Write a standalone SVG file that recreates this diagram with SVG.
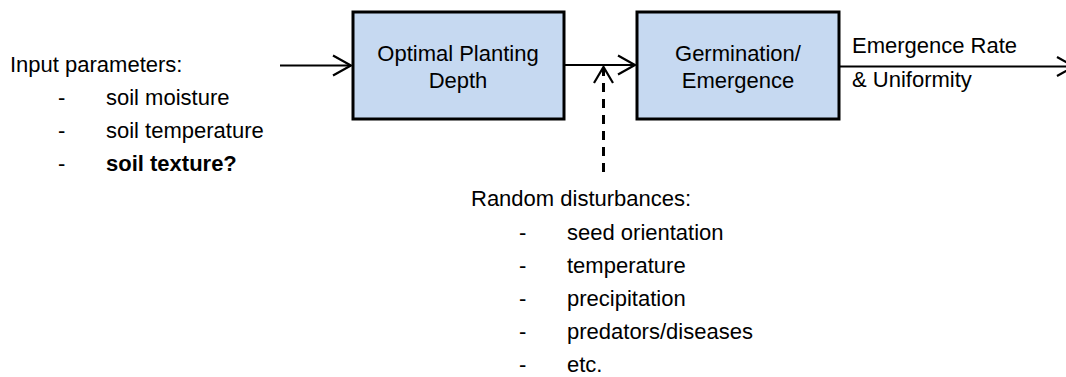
<svg xmlns="http://www.w3.org/2000/svg" width="1066" height="377" viewBox="0 0 1066 377">
  <style>
    text { font-family: "Liberation Sans", Arial, sans-serif; font-size: 22px; fill: #000; }
    .box { fill: #C6D9F1; stroke: #000; stroke-width: 3; }
    .c { text-anchor: middle; }
    .line { fill: none; stroke: #000; stroke-width: 2; }
    .head { fill: none; stroke: #000; stroke-width: 2.2; stroke-linejoin: miter; }
    .dash { fill: none; stroke: #000; stroke-width: 3; stroke-dasharray: 9 7; }
    .b { font-weight: bold; }
  </style>
  <rect width="1066" height="377" fill="#fff"/>

  <g id="input-parameters">
    <text x="10" y="72">Input parameters:</text>
    <text x="58" y="105">-</text>
    <text x="106" y="105">soil moisture</text>
    <text x="58" y="138">-</text>
    <text x="106" y="138">soil temperature</text>
    <text x="58" y="171">-</text>
    <text x="106" y="171" class="b">soil texture?</text>
  </g>

  <g id="optimal-planting-depth">
    <rect class="box" x="353" y="12" width="211" height="107"/>
    <text class="c" x="458" y="61">Optimal Planting</text>
    <text class="c" x="458" y="88">Depth</text>
  </g>

  <g id="germination-emergence">
    <rect class="box" x="637" y="12" width="202" height="107"/>
    <text class="c" x="738" y="61">Germination/</text>
    <text class="c" x="738" y="88">Emergence</text>
  </g>

  <g id="random-disturbances">
    <text x="471" y="206">Random disturbances:</text>
    <text x="519" y="240">-</text>
    <text x="567" y="240">seed orientation</text>
    <text x="519" y="273">-</text>
    <text x="567" y="273">temperature</text>
    <text x="519" y="306">-</text>
    <text x="567" y="306">precipitation</text>
    <text x="519" y="339">-</text>
    <text x="567" y="339">predators/diseases</text>
    <text x="519" y="372">-</text>
    <text x="567" y="372">etc.</text>
  </g>

  <g id="connectors">
    <line class="line" x1="280" y1="65.5" x2="350" y2="65.5"/>
    <polyline class="head" points="333,55.5 351,65.5 333,75.5"/>

    <line class="line" x1="565" y1="65" x2="634" y2="65"/>
    <polyline class="head" points="618,55.5 635,65 618,74.5"/>

    <line class="dash" x1="603.5" y1="172" x2="603.5" y2="68"/>
    <polyline class="head" points="594,83 603.5,67 613,83"/>

    <line class="line" x1="840" y1="66.5" x2="1066" y2="66.5"/>
    <polyline class="head" points="1057,57 1074,66.5 1057,76"/>
    <text x="852" y="53">Emergence Rate</text>
    <text x="852" y="87">&amp; Uniformity</text>
  </g>
</svg>
